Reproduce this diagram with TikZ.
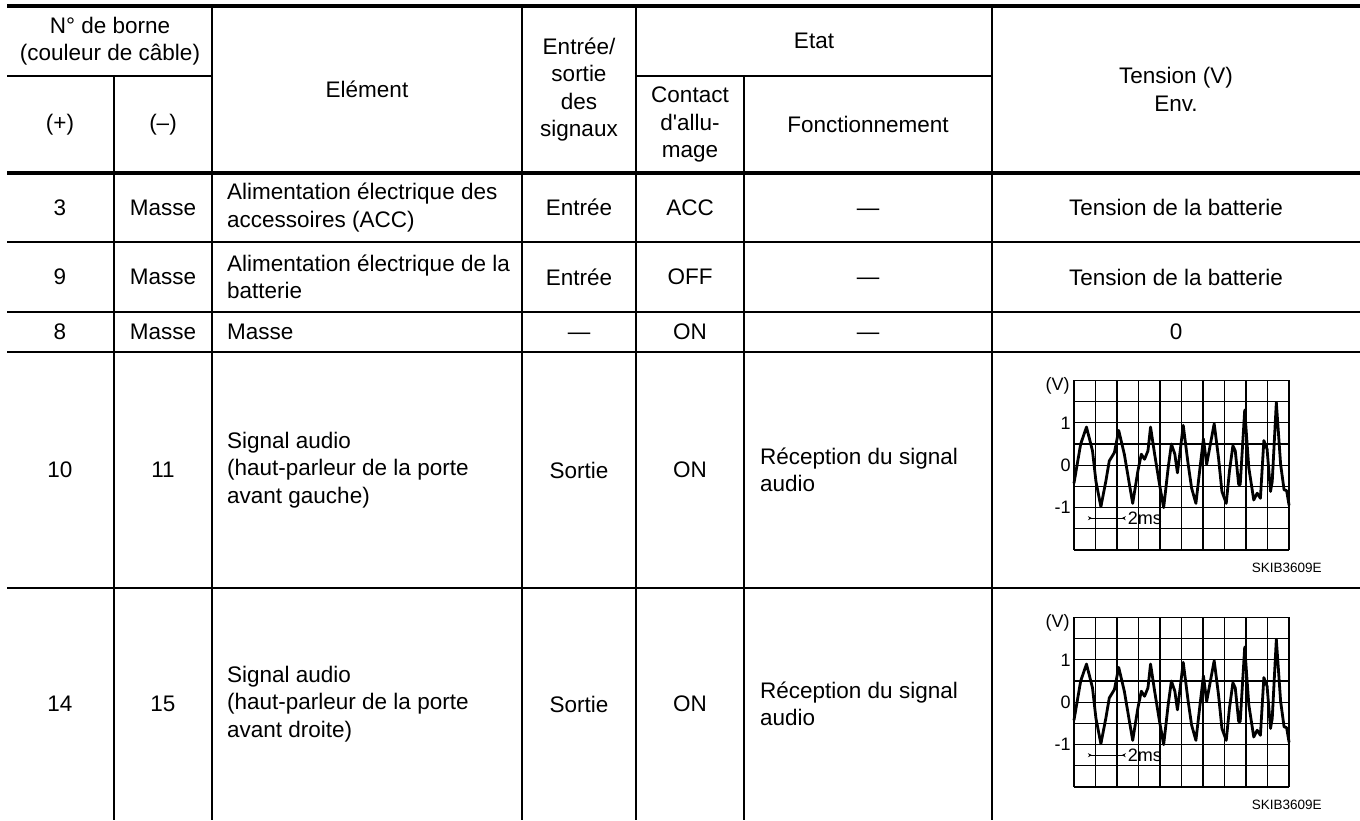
\documentclass[tikz,border=0pt]{standalone}
\usepackage{fontspec}
\setmainfont{Liberation Sans}
\usetikzlibrary{arrows.meta}
\tikzset{
    cellc/.style={
           inner sep=0pt,
           align=center,
           font=\fontsize{22.5}{27.5}\selectfont,
           },
    celll/.style={
           inner sep=0pt,
           anchor=west,
           align=left,
           font=\fontsize{22.5}{27.5}\selectfont,
           },
    rulethick/.style={line width=3.5pt},
    rulethin/.style={line width=1.3pt},
    gridln/.style={line width=1.1pt},
    wavetrace/.style={line width=2.8pt, line join=round, line cap=round},
    axislbl/.style={
           inner sep=0pt,
           anchor=east,
           font=\fontsize{18}{20}\selectfont,
           },
    codelbl/.style={
           inner sep=0pt,
           anchor=east,
           font=\fontsize{13.5}{15}\selectfont,
           },
}

\begin{document}
\begin{tikzpicture}[x=1pt, y=-1pt]
	\useasboundingbox (0,0) rectangle (1360,820);

	% table rules
	\draw[rulethick] (7,6) -- (1360,6);
	\draw[rulethick] (7,173) -- (1360,173);
	\draw[rulethin] (7,76) -- (212,76)
	                (636,76) -- (992,76)
	                (7,242) -- (1360,242)
	                (7,312) -- (1360,312)
	                (7,352) -- (1360,352)
	                (7,588) -- (1360,588);
	\draw[rulethin] (114,76) -- (114,820)
	                (212,6) -- (212,820)
	                (522,6) -- (522,820)
	                (636,6) -- (636,820)
	                (744,76) -- (744,820)
	                (992,6) -- (992,820);

	% header
	\node[cellc] (hborne) at (110,41) {N° de borne\\(couleur de câble)};
	\node[cellc] (hplus) at (60,124.5) {(+)};
	\node[cellc] (hminus) at (163,124.5) {(–)};
	\node[cellc] (helem) at (367,89.5) {Elément};
	\node[cellc] (hio) at (579,89.5) {Entrée/\\sortie\\des\\signaux};
	\node[cellc] (hetat) at (814,41) {Etat};
	\node[cellc] (hcontact) at (690,124.5) {Contact\\d\textquotesingle allu-\\mage};
	\node[cellc] (hfonct) at (868,124.5) {Fonctionnement};
	\node[cellc] (htension) at (1176,89.5) {Tension (V)\\Env.};

	% row 3
	\node[cellc] (p3) at (60,207.5) {3};
	\node[cellc] (m3) at (163,207.5) {Masse};
	\node[celll] (el3) at (227,207.5) {Alimentation électrique des\\accessoires (ACC)};
	\node[cellc] (io3) at (579,207.5) {Entrée};
	\node[cellc] (ct3) at (690,207.5) {ACC};
	\node[cellc] (fn3) at (868,207.5) {\vphantom{A}—};
	\node[cellc] (ts3) at (1176,207.5) {Tension de la batterie};

	% row 9
	\node[cellc] (p9) at (60,277) {9};
	\node[cellc] (m9) at (163,277) {Masse};
	\node[celll] (el9) at (227,277) {Alimentation électrique de la\\batterie};
	\node[cellc] (io9) at (579,277) {Entrée};
	\node[cellc] (ct9) at (690,277) {OFF};
	\node[cellc] (fn9) at (868,277) {\vphantom{A}—};
	\node[cellc] (ts9) at (1176,277) {Tension de la batterie};

	% row 8
	\node[cellc] (p8) at (60,332) {8};
	\node[cellc] (m8) at (163,332) {Masse};
	\node[celll] (el8) at (227,332) {Masse};
	\node[cellc] (io8) at (579,332) {\vphantom{A}—};
	\node[cellc] (ct8) at (690,332) {ON};
	\node[cellc] (fn8) at (868,332) {\vphantom{A}—};
	\node[cellc] (ts8) at (1176,332) {0};

	% audio rows with scope traces
	\foreach \ry/\gb/\pp/\mm/\side in {470/550/10/11/gauche, 704/787/14/15/droite}{
		\node[cellc] (p\pp) at (60,\ry) {\pp};
		\node[cellc] (m\pp) at (163,\ry) {\mm};
		\node[celll] (el\pp) at (227,\ry) {Signal audio\\(haut-parleur de la porte\\avant \side)};
		\node[cellc] (io\pp) at (579,\ry) {Sortie};
		\node[cellc] (ct\pp) at (690,\ry) {ON};
		\node[celll] (fn\pp) at (760,\ry) {Réception du signal\\audio};
		\begin{scope}[shift={(1074,\gb)}, x=21.5pt, y=21.2pt]
			\foreach \gx in {0,...,10} \draw[gridln] (\gx,0) -- (\gx,8);
			\foreach \gy in {0,...,8} \draw[gridln] (0,\gy) -- (10,\gy);
			\draw[wavetrace] plot coordinates {
				(0,3.16) (0.31,5.0) (0.58,5.8) (0.86,4.68) (1.02,3.24) (1.25,2.04)
				(1.48,3.24) (1.64,4.2) (1.88,4.6) (2.08,5.64) (2.34,4.52) (2.58,3.08)
				(2.73,2.2) (2.97,3.72) (3.13,4.52) (3.28,4.28) (3.44,4.68) (3.56,5.8)
				(3.75,4.52) (3.98,3.08) (4.17,2.0) (4.38,3.88) (4.53,5.0) (4.69,4.52)
				(4.81,3.64) (4.92,4.52) (5.08,5.88) (5.31,4.04) (5.47,2.92) (5.67,2.2)
				(5.86,3.88) (6.02,5.24) (6.17,4.04) (6.33,4.92) (6.52,5.96) (6.72,4.36)
				(6.88,2.76) (7.08,2.2) (7.23,3.72) (7.39,4.92) (7.5,4.68) (7.66,3.08)
				(7.73,3.08) (7.94,6.6) (8.13,3.88) (8.36,2.36) (8.52,2.68) (8.67,2.44)
				(8.83,5.16) (8.98,4.76) (9.14,2.76) (9.22,3.24) (9.41,6.96) (9.61,4.04)
				(9.77,2.84) (9.89,2.8) (10,2.12)};
			\node[axislbl] (volt\pp) at (-0.2,7.75) {(V)};
			\node[axislbl] (one\pp) at (-0.15,6) {1};
			\node[axislbl] (zero\pp) at (-0.15,4) {0};
			\node[axislbl] (neg\pp) at (-0.15,2) {-1};
			\node[axislbl, anchor=west] (ms\pp) at (2.5,1.5) {2ms};
			\coordinate (tl\pp) at (0.65,1.5);
			\draw[line width=1.1pt, {Stealth[reversed,length=4pt,width=4pt]}-{Stealth[reversed,length=4pt,width=4pt]}]
				(tl\pp) -- ([xshift=-2pt]ms\pp.west);
			\node[codelbl] (code\pp) at (11.53,-0.85) {SKIB3609E};
		\end{scope}
	}
\end{tikzpicture}
\end{document}
